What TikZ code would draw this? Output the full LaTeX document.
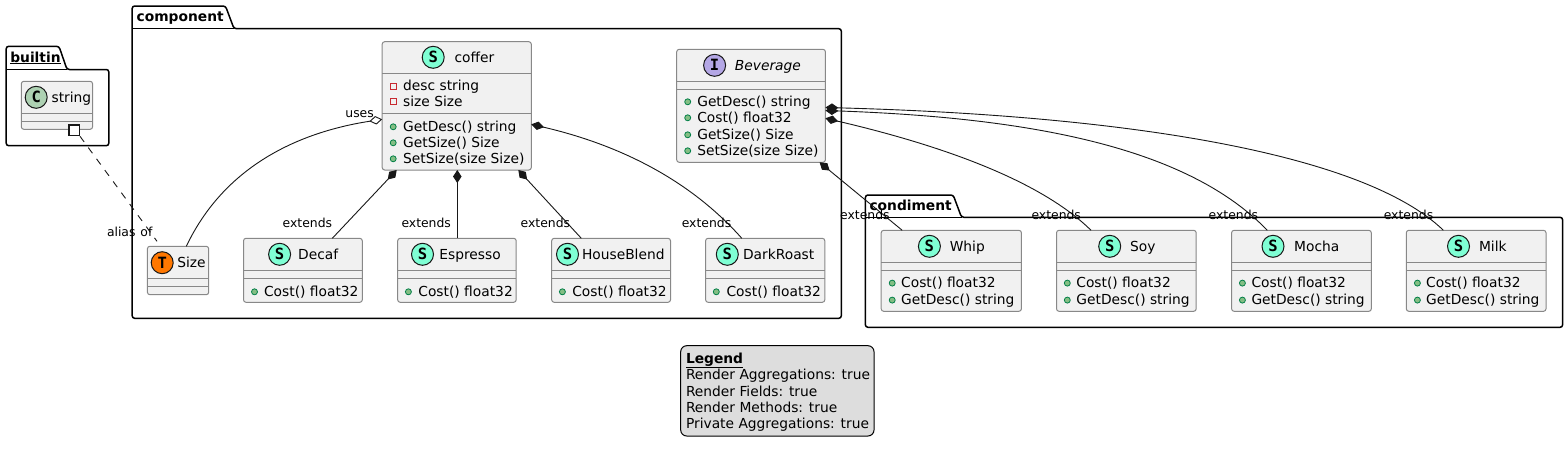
\documentclass[tikz,border=0pt]{standalone}
\usepackage{fontspec}
\setmainfont{DejaVu Sans}
\newfontfamily\spotfont{DejaVu Sans Mono}
\usetikzlibrary{arrows.meta,calc}
\definecolor{clsfill}{HTML}{F1F1F1}
\definecolor{clsline}{HTML}{888888}
\definecolor{inkc}{HTML}{181818}
\definecolor{spotS}{HTML}{7FFFD4}
\definecolor{spotC}{HTML}{ADD1B2}
\definecolor{spotT}{HTML}{FF7700}
\definecolor{spotI}{HTML}{B4A7E5}
\definecolor{pubfill}{HTML}{84BE84}
\definecolor{publine}{HTML}{038048}
\definecolor{privline}{HTML}{C82930}
\definecolor{legfill}{HTML}{DDDDDD}
\tikzset{
  cls/.style={draw=clsline,fill=clsfill,line width=1pt,rounded corners=2.5pt,inner sep=0pt,outer sep=0pt},
  divider/.style={draw=clsline,line width=1pt},
  pkg/.style={draw=black,line width=1.5pt,rounded corners=2.5pt,fill=white},
  pkgline/.style={draw=black,line width=1.5pt},
  txt/.style={inner sep=0pt,outer sep=0pt,anchor=base west,text=black,font=\fontsize{13.8}{16}\selectfont},
  pkgtxt/.style={txt,font=\fontsize{13.8}{16}\selectfont\bfseries},
  edgetxt/.style={txt,font=\fontsize{12.4}{15}\selectfont},
  spotc/.style={circle,draw=inkc,line width=1pt,minimum size=22pt,inner sep=0pt,outer sep=0pt,
     font=\spotfont\bfseries\fontsize{15.5}{15.5}\selectfont,text=black},
  comp/.style={draw=inkc,line width=.9pt,{Diamond[length=13pt,width=8.5pt,fill=inkc,color=inkc]}-},
  aggr/.style={draw=inkc,line width=.9pt,{Diamond[length=13pt,width=8.5pt,fill=white,color=inkc]}-},
  aliasl/.style={draw=inkc,line width=.9pt,dash pattern=on 7pt off 7pt},
}
\newcount\mcount
% name x1 y1 x2 y2 d1 d2 (dividers absolute y)
\newcommand{\umlbox}[7]{%
  \node[cls,minimum width={(#4-#2)*1pt},minimum height={(#5-#3)*1pt}] (#1) at ({(#2+#4)/2},{(#3+#5)/2}) {};
  \draw[divider] (#2,#6) -- (#4,#6);
  \draw[divider] (#2,#7) -- (#4,#7);
}
% name cx cy colour letter
\newcommand{\spot}[5]{\node[spotc,fill=#4] (#1spot) at (#2,#3) {#5};}
% name x basey text
\newcommand{\titletxt}[4]{\node[txt] (#1title) at (#2,#3) {#4};}
% public member: iconx textx centrey text
\newcommand{\pub}[4]{\global\advance\mcount by 1
  \node[circle,draw=publine,fill=pubfill,line width=.8pt,minimum size=6pt,inner sep=0pt] (ic\the\mcount) at (#1,#3+0.8) {};
  \node[txt] (mb\the\mcount) at (#2,#3+5) {#4};}
\newcommand{\priv}[4]{\global\advance\mcount by 1
  \node[rectangle,draw=privline,fill=clsfill,line width=.8pt,minimum size=6pt,inner sep=0pt] (ic\the\mcount) at (#1,#3+0.8) {};
  \node[txt] (mb\the\mcount) at (#2,#3+5) {#4};}
\newcommand{\structb}[5]{% name x1 x2 spotx, title handled after
  \umlbox{#1}{#2}{238.3}{#3}{302.3}{270.3}{278.3}
  \spot{#1}{#4}{254.3}{spotS}{S}
}
\newcommand{\structc}[8]{% name x1 x2 spotx titlex iconx textx title
  \umlbox{#1}{#2}{230.3}{#3}{311.3}{262.3}{270.3}
  \spot{#1}{#4}{246.3}{spotS}{S}
  \titletxt{#1}{#5}{251.3}{#8}
  \pub{#6}{#7}{282.3}{Cost() float32}
  \pub{#6}{#7}{299.3}{GetDesc() string}
}
\begin{document}
\begin{tikzpicture}[x=1pt,y=-1pt]
\useasboundingbox[fill=white] (0,0) rectangle (1568,455);
% packages
\draw[pkg] (6.2,69.5) -- (6.2,46.3) -- (59,46.3) -- (67,69.5) -- (108.8,69.5) -- (108.8,145.7) -- (6.2,145.7) -- cycle;
\draw[pkgline] (6.2,69.5) -- (67,69.5);
\draw[pkg] (132.2,28.7) -- (132.2,6) -- (225.5,6) -- (234,28.7) -- (841.3,28.7) -- (841.3,318.3) -- (132.2,318.3) -- cycle;
\draw[pkgline] (132.2,28.7) -- (234,28.7);
\draw[pkg] (865.4,217.3) -- (865.4,195) -- (953.2,195) -- (961.5,217.3) -- (1562.6,217.3) -- (1562.6,327.3) -- (865.4,327.3) -- cycle;
\draw[pkgline] (865.4,217.3) -- (961.5,217.3);
\node[pkgtxt] (builtintitle) at (10.3,62) {\underline{builtin}};
\node[pkgtxt] (componenttitle) at (136.7,21) {component};
\node[pkgtxt] (condimenttitle) at (869.5,210) {condiment};
% string
\umlbox{string}{21.3}{81.3}{92.6}{129.3}{113.3}{121.3}
\spot{string}{36.2}{97.3}{spotC}{C}
\titletxt{string}{51.6}{102.3}{string}
% coffer
\umlbox{coffer}{382.2}{41.7}{531.3}{170}{73.3}{113.7}
\spot{coffer}{433.2}{57.3}{spotS}{S}
\titletxt{coffer}{454.5}{62.3}{coffer}
\priv{393.2}{403.2}{85.3}{desc string}
\priv{393.2}{403.2}{101}{size Size}
\pub{393.2}{403.2}{126}{GetDesc() string}
\pub{393.2}{403.2}{142}{GetSize() Size}
\pub{393.2}{403.2}{158}{SetSize(size Size)}
% Beverage
\umlbox{beverage}{676.7}{49.3}{825.4}{162.3}{81.3}{89.3}
\spot{beverage}{714.6}{65.3}{spotI}{I}
\titletxt{beverage}{734.9}{70.3}{\itshape Beverage}
\pub{687.7}{697.3}{101}{GetDesc() string}
\pub{687.7}{697.3}{117}{Cost() float32}
\pub{687.7}{697.3}{134}{GetSize() Size}
\pub{687.7}{697.3}{150}{SetSize(size Size)}
% Size
\umlbox{size}{147.4}{246.3}{208.7}{294.7}{278.3}{286.3}
\spot{size}{162.2}{262.7}{spotT}{T}
\titletxt{size}{177.3}{267.7}{Size}
% component structs
\structb{decaf}{243.5}{362.3}{279.6}{}
\titletxt{decaf}{298.2}{259.3}{Decaf}
\pub{254.5}{264.1}{291}{Cost() float32}
\structb{espresso}{397.7}{516.2}{422.5}{}
\titletxt{espresso}{439.4}{259.3}{Espresso}
\pub{408.4}{418.4}{291}{Cost() float32}
\structb{houseblend}{551.7}{670.5}{567.5}{}
\titletxt{houseblend}{582}{259.3}{HouseBlend}
\pub{562.4}{572.3}{291}{Cost() float32}
\structb{darkroast}{705.6}{824.8}{727.3}{}
\titletxt{darkroast}{743.1}{259.3}{DarkRoast}
\pub{716.3}{726.6}{291}{Cost() float32}
% condiments
\structc{whip}{881.2}{1021.4}{929.4}{949.8}{892.2}{901.2}{Whip}
\structc{soy}{1056.5}{1196.2}{1109.7}{1130.2}{1067.3}{1076.4}{Soy}
\structc{mocha}{1231.6}{1371.3}{1273}{1294.2}{1242.4}{1251.5}{Mocha}
\structc{milk}{1406.3}{1546}{1458.5}{1479}{1417.4}{1426.2}{Milk}
% alias
\node[draw=inkc,fill=white,line width=1.5pt,minimum size=10.5pt,inner sep=0pt] (aliassq) at (74,130.3) {};
\draw[aliasl] (aliassq.south east) -- ($(size.north west)+(9.6,-5)$);
% connectors
\draw[aggr] ($(coffer.north west)+(0,77.6)$) .. controls (300,132) and (225,165) .. ($(size.north west)+(38.9,0)$);
\draw[comp] ($(coffer.south west)+(14.5,0)$) -- ($(decaf.north west)+(88.8,0)$);
\draw[comp] ($(coffer.south west)+(75.1,0)$) -- ($(espresso.north west)+(59.6,0)$);
\draw[comp] ($(coffer.south west)+(136.1,0)$) -- ($(houseblend.north west)+(29.6,0)$);
\draw[comp] ($(coffer.north east)+(0,82.6)$) .. controls (620,145) and (690,180) .. ($(darkroast.north west)+(36.2,0)$);
\draw[comp] ($(beverage.south east)+(-5.8,0)$) -- ($(whip.north west)+(21,0)$);
\draw[comp] ($(beverage.north east)+(0,69)$) .. controls (940,145) and (1040,180) .. ($(soy.north west)+(34.5,0)$);
\draw[comp] ($(beverage.north east)+(0,61.2)$) .. controls (1040,118) and (1190,150) .. ($(mocha.north west)+(35.7,0)$);
\draw[comp] ($(beverage.north east)+(0,58.2)$) .. controls (1110,115) and (1360,150) .. ($(milk.north west)+(37.1,0)$);
% edge labels
\node[edgetxt] (lb1) at (107,236) {alias\hspace{1pt} of};
\node[edgetxt] (lb2) at (345.4,117) {uses};
\node[edgetxt] (lb3) at (282.7,227) {extends};
\node[edgetxt] (lb4) at (401.5,227) {extends};
\node[edgetxt] (lb5) at (520.7,227) {extends};
\node[edgetxt] (lb6) at (681.8,227) {extends};
\node[edgetxt] (lb7) at (840.2,219) {extends};
\node[edgetxt] (lb8) at (1031.5,219) {extends};
\node[edgetxt] (lb9) at (1208.7,219) {extends};
\node[edgetxt] (lb10) at (1383.8,219.5) {extends};
% legend
\node[draw=black,fill=legfill,line width=1pt,rounded corners=6pt,inner sep=0pt,minimum width=193.3pt,minimum height=90.3pt] (legend) at (777.35,390.85) {};
\node[pkgtxt] (leg0) at (686,363) {\underline{Legend}};
\node[txt] (leg1) at (686,379) {Render Aggregations: true};
\node[txt] (leg2) at (686,396) {Render Fields: true};
\node[txt] (leg3) at (686,412) {Render Methods: true};
\node[txt] (leg4) at (686,428) {Private Aggregations: true};
\end{tikzpicture}
\end{document}
